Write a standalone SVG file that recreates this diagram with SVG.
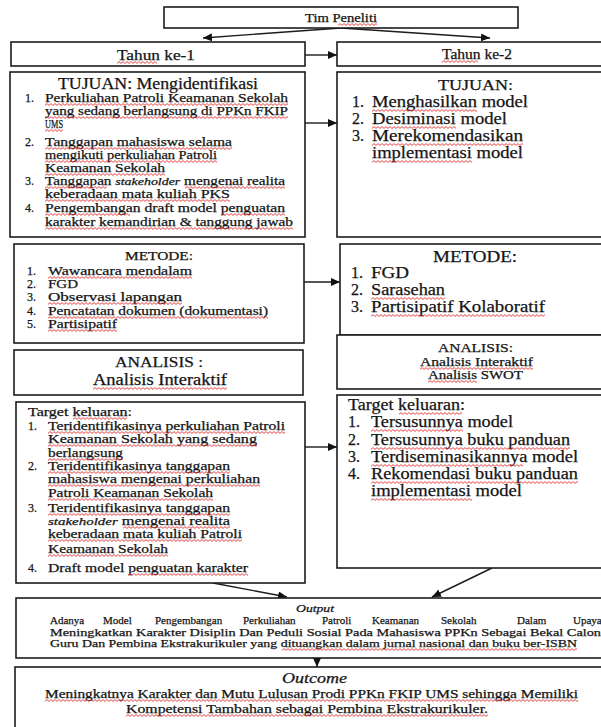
<svg xmlns="http://www.w3.org/2000/svg" width="601" height="727" viewBox="0 0 601 727" font-family="'Liberation Serif', 'Times New Roman', serif">
<style>
.box{fill:#fff;stroke:#1c1c1c;stroke-width:1.6}
text{fill:#151515;stroke:#151515;stroke-width:0.25}
.it{font-style:italic}
.con{stroke:#1c1c1c;stroke-width:1.4;fill:none;marker-end:url(#ah)}
.w{fill:url(#wv)}
.f13{font-size:12px}.f16{font-size:16px}.f15{font-size:15px}.f11{font-size:11px}.f12{font-size:12px}
</style>
<defs>
<marker id="ah" viewBox="0 0 9 8" refX="9" refY="4" markerWidth="9" markerHeight="8" markerUnits="userSpaceOnUse" orient="auto"><path d="M0,0 L9,4 L0,8 z" fill="#111"/></marker>
<pattern id="wv" x="0" y="0" width="4" height="3" patternUnits="userSpaceOnUse"><path d="M0,2.4 L2,0.6 L4,2.4" fill="none" stroke="#e23030" stroke-width="0.9"/></pattern>
</defs>

<g id="connectors">
<line class="con" x1="341" y1="28" x2="203" y2="38"/>
<line class="con" x1="341" y1="28" x2="490" y2="38"/>
<line class="con" x1="305" y1="55" x2="337" y2="55"/>
<line class="con" x1="305" y1="123" x2="337" y2="123"/>
<line class="con" x1="304" y1="282" x2="340" y2="282"/>
<line class="con" x1="305" y1="447" x2="337" y2="447"/>
<line class="con" x1="213" y1="583" x2="287" y2="597"/>
<line class="con" x1="492" y1="568" x2="432" y2="597"/>
<line class="con" x1="317" y1="658" x2="317" y2="667"/>
</g>

<g id="tim">
<rect class="box" x="164" y="7" width="354" height="21"/>
<text class="f12" x="305" y="22" textLength="72" lengthAdjust="spacingAndGlyphs">Tim Peneliti</text>
<rect class="w" x="0" y="0" width="39" height="3" transform="translate(338,23)"/>
</g>

<g id="tahun1">
<rect class="box" x="11" y="42" width="294" height="24"/>
<text class="f15" x="117" y="60" textLength="78" lengthAdjust="spacingAndGlyphs">Tahun ke-1</text>
<rect class="w" x="0" y="0" width="40" height="3" transform="translate(117,61)"/>
</g>

<g id="tahun2">
<rect class="box" x="337" y="42" width="272" height="24"/>
<text style="font-size:14px" x="442" y="59" textLength="70" lengthAdjust="spacingAndGlyphs">Tahun ke-2</text>
<rect class="w" x="0" y="0" width="36" height="3" transform="translate(442,60)"/>
</g>

<g id="tujuan1">
<rect class="box" x="10" y="72" width="295" height="165"/>
<text class="f16" x="58" y="89" textLength="200" lengthAdjust="spacingAndGlyphs">TUJUAN: Mengidentifikasi</text>
<g class="f13">
<text x="25" y="102">1.</text>
<text x="45" y="102" textLength="243" lengthAdjust="spacingAndGlyphs">Perkuliahan Patroli Keamanan Sekolah</text>
<text x="45" y="115" textLength="243" lengthAdjust="spacingAndGlyphs">yang sedang berlangsung di PPKn FKIP</text>
<text x="45" y="128" textLength="18" lengthAdjust="spacingAndGlyphs">UMS</text>
<text x="25" y="146">2.</text>
<text x="45" y="146" textLength="187" lengthAdjust="spacingAndGlyphs">Tanggapan mahasiswa selama</text>
<text x="45" y="159" textLength="172" lengthAdjust="spacingAndGlyphs">mengikuti perkuliahan Patroli</text>
<text x="45" y="172" textLength="120" lengthAdjust="spacingAndGlyphs">Keamanan Sekolah</text>
<text x="25" y="185">3.</text>
<text x="45" y="185" textLength="240" lengthAdjust="spacingAndGlyphs">Tanggapan <tspan class="it" style="font-size:11px">stakeholder</tspan> mengenai realita</text>
<text x="45" y="198" textLength="185" lengthAdjust="spacingAndGlyphs">keberadaan mata kuliah PKS</text>
<text x="25" y="212">4.</text>
<text x="45" y="212" textLength="240" lengthAdjust="spacingAndGlyphs">Pengembangan draft model penguatan</text>
<text x="45" y="226" textLength="248" lengthAdjust="spacingAndGlyphs">karakter kemandirian &amp; tanggung jawab</text>
</g>
<rect class="w" x="0" y="0" width="243" height="3" transform="translate(45,103)"/>
<rect class="w" x="0" y="0" width="243" height="3" transform="translate(45,116)"/>
<rect class="w" x="0" y="0" width="18" height="3" transform="translate(45,129)"/>
<rect class="w" x="0" y="0" width="187" height="3" transform="translate(45,147)"/>
<rect class="w" x="0" y="0" width="172" height="3" transform="translate(45,160)"/>
<rect class="w" x="0" y="0" width="120" height="3" transform="translate(45,173)"/>
<rect class="w" x="0" y="0" width="62" height="3" transform="translate(45,186)"/>
<rect class="w" x="0" y="0" width="100" height="3" transform="translate(185,186)"/>
<rect class="w" x="0" y="0" width="185" height="3" transform="translate(45,199)"/>
<rect class="w" x="0" y="0" width="85" height="3" transform="translate(45,213)"/>
<rect class="w" x="0" y="0" width="64" height="3" transform="translate(221,213)"/>
<rect class="w" x="0" y="0" width="248" height="3" transform="translate(45,227)"/>
</g>

<g id="tujuan2">
<rect class="box" x="337" y="72" width="272" height="165"/>
<text class="f15" x="438" y="90" textLength="75" lengthAdjust="spacingAndGlyphs">TUJUAN:</text>
<g class="f16">
<text x="352" y="107">1.</text>
<text x="372" y="107" textLength="156" lengthAdjust="spacingAndGlyphs">Menghasilkan model</text>
<text x="352" y="124">2.</text>
<text x="372" y="124" textLength="135" lengthAdjust="spacingAndGlyphs">Desiminasi model</text>
<text x="352" y="141">3.</text>
<text x="372" y="141" textLength="151" lengthAdjust="spacingAndGlyphs">Merekomendasikan</text>
<text x="372" y="158" textLength="151" lengthAdjust="spacingAndGlyphs">implementasi model</text>
</g>
<rect class="w" x="0" y="0" width="105" height="3" transform="translate(372,109)"/>
<rect class="w" x="0" y="0" width="84" height="3" transform="translate(372,126)"/>
<rect class="w" x="0" y="0" width="151" height="3" transform="translate(372,143)"/>
<rect class="w" x="0" y="0" width="100" height="3" transform="translate(372,160)"/>
</g>

<g id="metode1">
<rect class="box" x="14" y="244" width="290" height="99"/>
<g class="f13">
<text x="125" y="260" textLength="68" lengthAdjust="spacingAndGlyphs">METODE:</text>
<text x="27" y="275">1.</text>
<text x="48" y="275" textLength="144" lengthAdjust="spacingAndGlyphs">Wawancara mendalam</text>
<text x="27" y="288">2.</text>
<text x="48" y="288" textLength="30" lengthAdjust="spacingAndGlyphs">FGD</text>
<text x="27" y="301">3.</text>
<text x="48" y="301" textLength="134" lengthAdjust="spacingAndGlyphs">Observasi lapangan</text>
<text x="27" y="315">4.</text>
<text x="48" y="315" textLength="220" lengthAdjust="spacingAndGlyphs">Pencatatan dokumen (dokumentasi)</text>
<text x="27" y="328">5.</text>
<text x="48" y="328" textLength="69" lengthAdjust="spacingAndGlyphs">Partisipatif</text>
</g>
<rect class="w" x="0" y="0" width="144" height="3" transform="translate(48,276)"/>
<rect class="w" x="0" y="0" width="134" height="3" transform="translate(48,302)"/>
<rect class="w" x="0" y="0" width="220" height="3" transform="translate(48,316)"/>
<rect class="w" x="0" y="0" width="69" height="3" transform="translate(48,329)"/>
</g>

<g id="metode2">
<rect class="box" x="340" y="244" width="269" height="91"/>
<g class="f16">
<text x="433" y="262" textLength="84" lengthAdjust="spacingAndGlyphs">METODE:</text>
<text x="351" y="278">1.</text>
<text x="371" y="278" textLength="38" lengthAdjust="spacingAndGlyphs">FGD</text>
<text x="351" y="295">2.</text>
<text x="371" y="295" textLength="74" lengthAdjust="spacingAndGlyphs">Sarasehan</text>
<text x="351" y="312">3.</text>
<text x="371" y="312" textLength="174" lengthAdjust="spacingAndGlyphs">Partisipatif Kolaboratif</text>
</g>
<rect class="w" x="0" y="0" width="74" height="3" transform="translate(371,297)"/>
<rect class="w" x="0" y="0" width="174" height="3" transform="translate(371,314)"/>
</g>

<g id="analisis1">
<rect class="box" x="14" y="350" width="289" height="45"/>
<text class="f15" x="115" y="367" textLength="88" lengthAdjust="spacingAndGlyphs">ANALISIS :</text>
<text class="f16" x="93" y="385" textLength="134" lengthAdjust="spacingAndGlyphs">Analisis Interaktif</text>
<rect class="w" x="0" y="0" width="134" height="3" transform="translate(93,387)"/>
</g>

<g id="analisis2">
<rect class="box" x="337" y="335" width="272" height="54"/>
<g class="f13">
<text x="438" y="352" textLength="75" lengthAdjust="spacingAndGlyphs">ANALISIS:</text>
<text x="420" y="366" textLength="113" lengthAdjust="spacingAndGlyphs">Analisis Interaktif</text>
<text x="428" y="379" textLength="95" lengthAdjust="spacingAndGlyphs">Analisis SWOT</text>
</g>
<rect class="w" x="0" y="0" width="113" height="3" transform="translate(420,367)"/>
<rect class="w" x="0" y="0" width="49" height="3" transform="translate(428,380)"/>
</g>

<g id="target1">
<rect class="box" x="16" y="402" width="289" height="181"/>
<g class="f13">
<text x="28" y="416" textLength="104" lengthAdjust="spacingAndGlyphs">Target keluaran:</text>
<text x="28" y="430">1.</text>
<text x="48" y="430" textLength="237" lengthAdjust="spacingAndGlyphs">Teridentifikasinya perkuliahan Patroli</text>
<text x="48" y="443" textLength="209" lengthAdjust="spacingAndGlyphs">Keamanan Sekolah  yang sedang</text>
<text x="48" y="457" textLength="75" lengthAdjust="spacingAndGlyphs">berlangsung</text>
<text x="28" y="470">2.</text>
<text x="48" y="470" textLength="182" lengthAdjust="spacingAndGlyphs">Teridentifikasinya tanggapan</text>
<text x="48" y="483" textLength="212" lengthAdjust="spacingAndGlyphs">mahasiswa mengenai perkuliahan</text>
<text x="48" y="497" textLength="165" lengthAdjust="spacingAndGlyphs">Patroli Keamanan Sekolah</text>
<text x="28" y="512">3.</text>
<text x="48" y="512" textLength="182" lengthAdjust="spacingAndGlyphs">Teridentifikasinya tanggapan</text>
<text x="48" y="525" textLength="182" lengthAdjust="spacingAndGlyphs"><tspan class="it" style="font-size:11px">stakeholder</tspan> mengenai realita</text>
<text x="48" y="538" textLength="194" lengthAdjust="spacingAndGlyphs">keberadaan mata kuliah Patroli</text>
<text x="48" y="553" textLength="120" lengthAdjust="spacingAndGlyphs">Keamanan Sekolah</text>
<text x="28" y="572">4.</text>
<text x="48" y="572" textLength="200" lengthAdjust="spacingAndGlyphs">Draft model penguatan karakter</text>
</g>
<rect class="w" x="0" y="0" width="54" height="3" transform="translate(73,417)"/>
<rect class="w" x="0" y="0" width="237" height="3" transform="translate(48,431)"/>
<rect class="w" x="0" y="0" width="209" height="3" transform="translate(48,444)"/>
<rect class="w" x="0" y="0" width="75" height="3" transform="translate(48,458)"/>
<rect class="w" x="0" y="0" width="182" height="3" transform="translate(48,471)"/>
<rect class="w" x="0" y="0" width="212" height="3" transform="translate(48,484)"/>
<rect class="w" x="0" y="0" width="165" height="3" transform="translate(48,498)"/>
<rect class="w" x="0" y="0" width="182" height="3" transform="translate(48,513)"/>
<rect class="w" x="0" y="0" width="107" height="3" transform="translate(123,526)"/>
<rect class="w" x="0" y="0" width="194" height="3" transform="translate(48,539)"/>
<rect class="w" x="0" y="0" width="120" height="3" transform="translate(48,554)"/>
<rect class="w" x="0" y="0" width="120" height="3" transform="translate(128,573)"/>
</g>

<g id="target2">
<rect class="box" x="337" y="395" width="272" height="173"/>
<g class="f16">
<text x="348" y="410" textLength="117" lengthAdjust="spacingAndGlyphs">Target keluaran:</text>
<text x="348" y="427">1.</text>
<text x="371" y="427" textLength="142" lengthAdjust="spacingAndGlyphs">Tersusunnya model</text>
<text x="348" y="445">2.</text>
<text x="371" y="445" textLength="199" lengthAdjust="spacingAndGlyphs">Tersusunnya buku panduan</text>
<text x="348" y="462">3.</text>
<text x="371" y="462" textLength="207" lengthAdjust="spacingAndGlyphs">Terdiseminasikannya model</text>
<text x="348" y="479">4.</text>
<text x="371" y="479" textLength="207" lengthAdjust="spacingAndGlyphs">Rekomendasi buku panduan</text>
<text x="371" y="496" textLength="151" lengthAdjust="spacingAndGlyphs">implementasi model</text>
</g>
<rect class="w" x="0" y="0" width="63" height="3" transform="translate(399,412)"/>
<rect class="w" x="0" y="0" width="92" height="3" transform="translate(371,429)"/>
<rect class="w" x="0" y="0" width="199" height="3" transform="translate(371,447)"/>
<rect class="w" x="0" y="0" width="152" height="3" transform="translate(371,464)"/>
<rect class="w" x="0" y="0" width="207" height="3" transform="translate(371,481)"/>
<rect class="w" x="0" y="0" width="101" height="3" transform="translate(371,498)"/>
</g>

<g id="output">
<rect class="box" x="16" y="598" width="593" height="60"/>
<text class="f11 it" x="296" y="612" textLength="38" lengthAdjust="spacingAndGlyphs">Output</text>
<text class="f11" y="624"><tspan x="50">Adanya</tspan><tspan x="103">Model</tspan><tspan x="155">Pengembangan</tspan><tspan x="243">Perkuliahan</tspan><tspan x="322">Patroli</tspan><tspan x="372">Keamanan</tspan><tspan x="441">Sekolah</tspan><tspan x="517">Dalam</tspan><tspan x="573">Upaya</tspan></text>
<text class="f11" x="50" y="635.5" textLength="551" lengthAdjust="spacingAndGlyphs">Meningkatkan Karakter Disiplin Dan Peduli Sosial Pada Mahasiswa PPKn Sebagai Bekal Calon</text>
<text class="f11" x="50" y="647" textLength="527" lengthAdjust="spacingAndGlyphs">Guru Dan Pembina Ekstrakurikuler yang dituangkan dalam jurnal nasional dan buku ber-ISBN</text>
<rect class="w" x="0" y="0" width="295" height="3" transform="translate(282,648)"/>
</g>

<g id="outcome">
<rect class="box" x="15" y="667" width="594" height="70"/>
<text class="it" style="font-size:14px" x="282" y="683" textLength="65" lengthAdjust="spacingAndGlyphs">Outcome</text>
<text class="f12" x="45" y="698" textLength="533" lengthAdjust="spacingAndGlyphs">Meningkatnya Karakter dan Mutu Lulusan Prodi PPKn FKIP UMS sehingga Memiliki</text>
<text class="f12" x="126" y="713" textLength="362" lengthAdjust="spacingAndGlyphs">Kompetensi Tambahan sebagai Pembina Ekstrakurikuler.</text>
<rect class="w" x="0" y="0" width="533" height="3" transform="translate(45,699)"/>
<rect class="w" x="0" y="0" width="362" height="3" transform="translate(126,714)"/>
</g>
</svg>
